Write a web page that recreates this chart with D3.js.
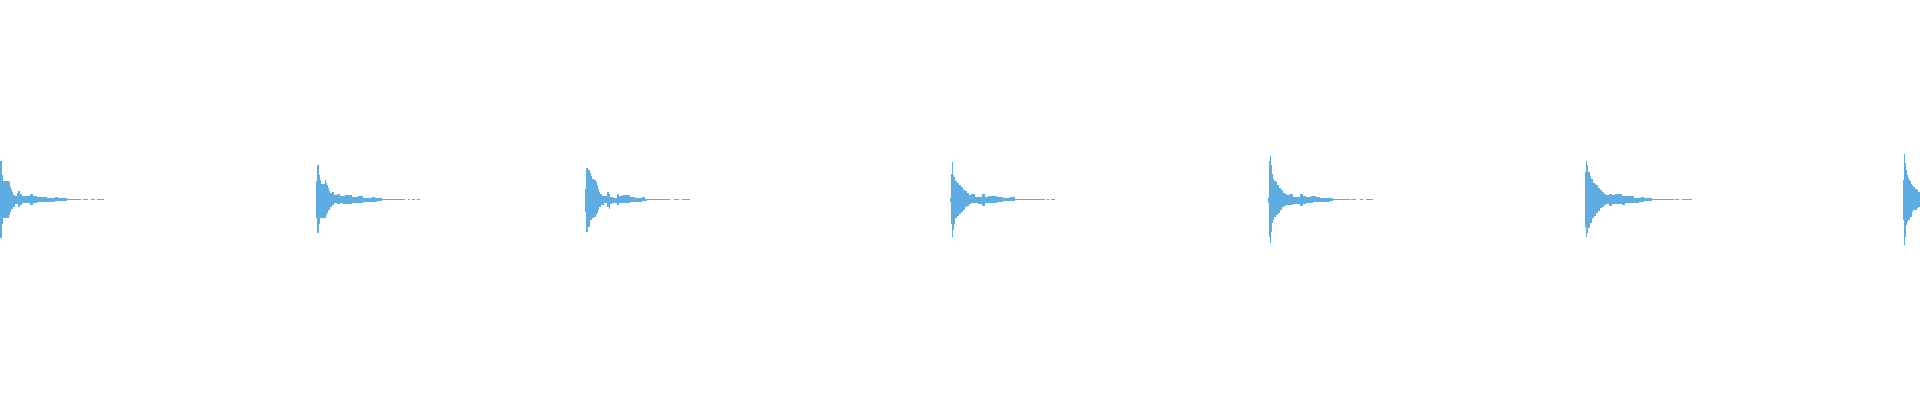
<!DOCTYPE html>
<html>
<head>
<meta charset="utf-8">
<script src="https://cdn.jsdelivr.net/npm/d3@7"></script>
<style>
  html, body { margin: 0; padding: 0; background: #fff; }
  svg { display: block; }
</style>
</head>
<body>
<svg id="wave" width="1920" height="400"></svg>
<script>
// track length and where each hit starts (ms)
var durationMs = 9600
var onsetsMs = [0, 1580, 2925, 4750, 6340, 7925, 9515]

// peak envelope of each hit: [ms after onset, upper peak %, lower peak %]
var hit1 = [[0, 19.2, 19.5], [10, 12.2, 12.4], [15, 9.4, 9.4], [45, 8.9, 7.9], [50, 6.4, 6.4], [55, 5.2, 5.0],
  [60, 3.9, 5.0], [65, 2.5, 3.7], [75, 1.7, 2.5], [85, 3.5, 2.5], [90, 4.2, 4.0], [100, 3.0, 3.0],
  [110, 1.7, 2.0], [135, 2.0, 2.0], [150, 2.9, 3.0], [165, 1.7, 1.7], [185, 1.2, 1.4], [235, 1.0, 1.4],
  [275, 1.2, 1.0], [290, 0.7, 1.0], [300, 0.7, 0.7], [335, 0.3, 0.3], [405, 0, 0], [415, 0.3, 0.3],
  [440, 0, 0], [455, 0.3, 0.3], [475, 0, 0], [485, 0.3, 0.3], [520, 0, 0]]

var hit2 = [[0, 9.2, 9.5], [5, 17.2, 17.0], [15, 12.2, 12.4], [20, 9.7, 9.5], [25, 8.0, 9.5], [45, 9.7, 9.5],
  [50, 8.5, 7.9], [55, 7.2, 6.7], [60, 6.0, 5.4], [65, 4.4, 5.4], [70, 3.4, 4.0], [80, 3.7, 2.9],
  [90, 2.5, 2.0], [105, 2.7, 2.4], [120, 1.7, 2.0], [135, 2.0, 2.4], [145, 2.2, 2.4], [180, 1.4, 2.0],
  [210, 1.7, 1.7], [235, 1.0, 1.4], [280, 1.2, 1.2], [295, 0.7, 1.2], [305, 0.7, 0.7], [330, 0.3, 0.3],
  [445, 0, 0], [462, 0.3, 0.3], [470, 0, 0], [480, 0.3, 0.3], [495, 0, 0], [503, 0.3, 0.3], [520, 0, 0]]

var hit3 = [[0, 5.5, 6.2], [5, 16.0, 16.2], [15, 14.7, 14.0], [25, 13.4, 10.4], [30, 11.7, 10.4], [35, 10.5, 9.5],
  [45, 9.7, 8.7], [55, 8.9, 7.9], [60, 7.2, 6.7], [65, 5.5, 5.4], [70, 3.9, 4.0], [75, 3.0, 4.0],
  [80, 3.0, 2.9], [85, 2.0, 2.9], [95, 1.7, 2.0], [110, 3.9, 4.0], [118, 3.0, 5.0], [125, 1.4, 2.4],
  [135, 1.4, 1.7], [140, 1.0, 1.7], [160, 3.0, 2.9], [170, 1.7, 2.0], [185, 2.2, 2.0], [225, 1.4, 1.5],
  [250, 0.9, 1.2], [285, 1.4, 0.9], [300, 0.5, 0.9], [310, 0.5, 0.5], [350, 0.3, 0.3],
  [425, 0, 0], [447, 0.3, 0.3], [472, 0, 0], [483, 0.3, 0.3], [525, 0, 0]]

var hit4 = [[0, 0.9, 1.2], [5, 13.0, 12.4], [10, 18.9, 18.7], [15, 12.2, 15.4], [20, 11.4, 12.4], [25, 9.2, 9.5],
  [35, 8.5, 8.4], [45, 7.2, 7.4], [55, 6.4, 6.2], [65, 5.0, 5.4], [75, 4.4, 4.0], [85, 3.5, 3.2],
  [95, 2.5, 2.5], [105, 2.7, 2.0], [125, 1.4, 1.7], [140, 1.4, 2.4], [160, 3.0, 3.4], [175, 1.4, 2.0],
  [190, 1.9, 1.7], [235, 1.2, 1.2], [265, 0.7, 0.9], [300, 1.2, 0.7], [325, 0.4, 0.4], [375, 0.3, 0.3],
  [475, 0, 0], [485, 0.3, 0.3], [495, 0, 0], [505, 0.3, 0.3], [525, 0, 0]]

var hit5 = [[0, 0.9, 1.7], [5, 19.2, 19.0], [10, 21.7, 22.0], [15, 17.2, 16.2], [20, 13.0, 12.0], [25, 10.5, 10.4],
  [30, 9.4, 8.7], [40, 8.9, 7.9], [45, 7.2, 7.9], [50, 7.2, 6.7], [55, 6.0, 6.7], [60, 6.0, 5.4],
  [65, 4.7, 5.4], [70, 4.7, 4.0], [75, 3.5, 4.0], [80, 3.5, 3.4], [85, 3.0, 3.4], [90, 3.0, 2.7],
  [95, 2.5, 2.7], [110, 3.0, 2.7], [125, 1.4, 2.4], [160, 3.0, 3.2], [175, 1.9, 2.4], [190, 1.4, 2.0],
  [215, 1.7, 2.0], [225, 1.7, 1.5], [240, 1.4, 1.5], [260, 0.9, 1.2], [310, 0.9, 0.7], [325, 0.5, 0.5],
  [375, 0.3, 0.3], [408, 0, 0], [417, 0.3, 0.3], [442, 0, 0], [458, 0.3, 0.3], [475, 0, 0],
  [492, 0.3, 0.3], [525, 0, 0]]

var hit6 = [[0, 13.9, 13.7], [5, 19.2, 19.0], [10, 17.2, 17.0], [15, 13.9, 14.5], [25, 11.7, 11.7], [30, 10.5, 11.7],
  [35, 10.5, 9.5], [40, 8.5, 9.5], [45, 8.5, 8.4], [50, 8.0, 8.4], [55, 7.2, 7.0], [65, 6.0, 5.9],
  [75, 4.7, 4.5], [85, 3.9, 3.7], [95, 2.7, 2.9], [105, 2.2, 2.4], [120, 3.0, 3.4], [135, 2.2, 2.4],
  [150, 2.7, 2.4], [185, 1.9, 2.9], [200, 1.7, 2.0], [235, 1.7, 1.7], [245, 0.9, 1.7], [270, 0.9, 1.4],
  [280, 1.2, 1.4], [295, 0.7, 1.0], [320, 0.7, 0.7], [335, 0.4, 0.4], [400, 0.3, 0.3],
  [443, 0, 0], [452, 0.3, 0.3], [472, 0, 0], [485, 0.3, 0.3], [535, 0, 0]]

var hit7 = [[0, 9.7, 10.4], [5, 22.7, 23.0], [10, 18.3, 18.7], [15, 14.7, 12.9], [20, 12.2, 11.2], [25, 11.0, 10.4],
  [30, 10.0, 10.4], [35, 9.3, 8.7], [40, 8.0, 8.7], [45, 7.2, 6.2], [50, 6.3, 5.4], [60, 5.5, 5.4],
  [70, 4.7, 4.5], [75, 3.8, 3.7], [85, 3.8, 3.7]]

var hits = [hit1, hit2, hit3, hit4, hit5, hit6, hit7]

var width = 1920
var height = 400

var xScale = d3.scaleLinear().domain([0, durationMs]).range([0, width])
var yScale = d3.scaleLinear().domain([-100, 100]).range([height - 1, 0])

var svg = d3.select('#wave')

svg.append('rect')
    .attr('width', width)
    .attr('height', height)
    .attr('fill', '#ffffff')

// draw every hit as a stepped area between its upper and lower peaks
hits.forEach(function (hit, i) {
    var onset = onsetsMs[i]
    var area = d3.area()
        .x(d => xScale(onset + d[0]))
        .y1(d => yScale(d[1]))
        .y0(d => yScale(-d[2]))
        .curve(d3.curveStepAfter)

    svg.append('path')
        .datum(hit)
        .attr('class', 'hit')
        .attr('d', area)
        .attr('fill', '#5dade2')
        .attr('shape-rendering', 'crispEdges')
})
</script>
</body>
</html>
